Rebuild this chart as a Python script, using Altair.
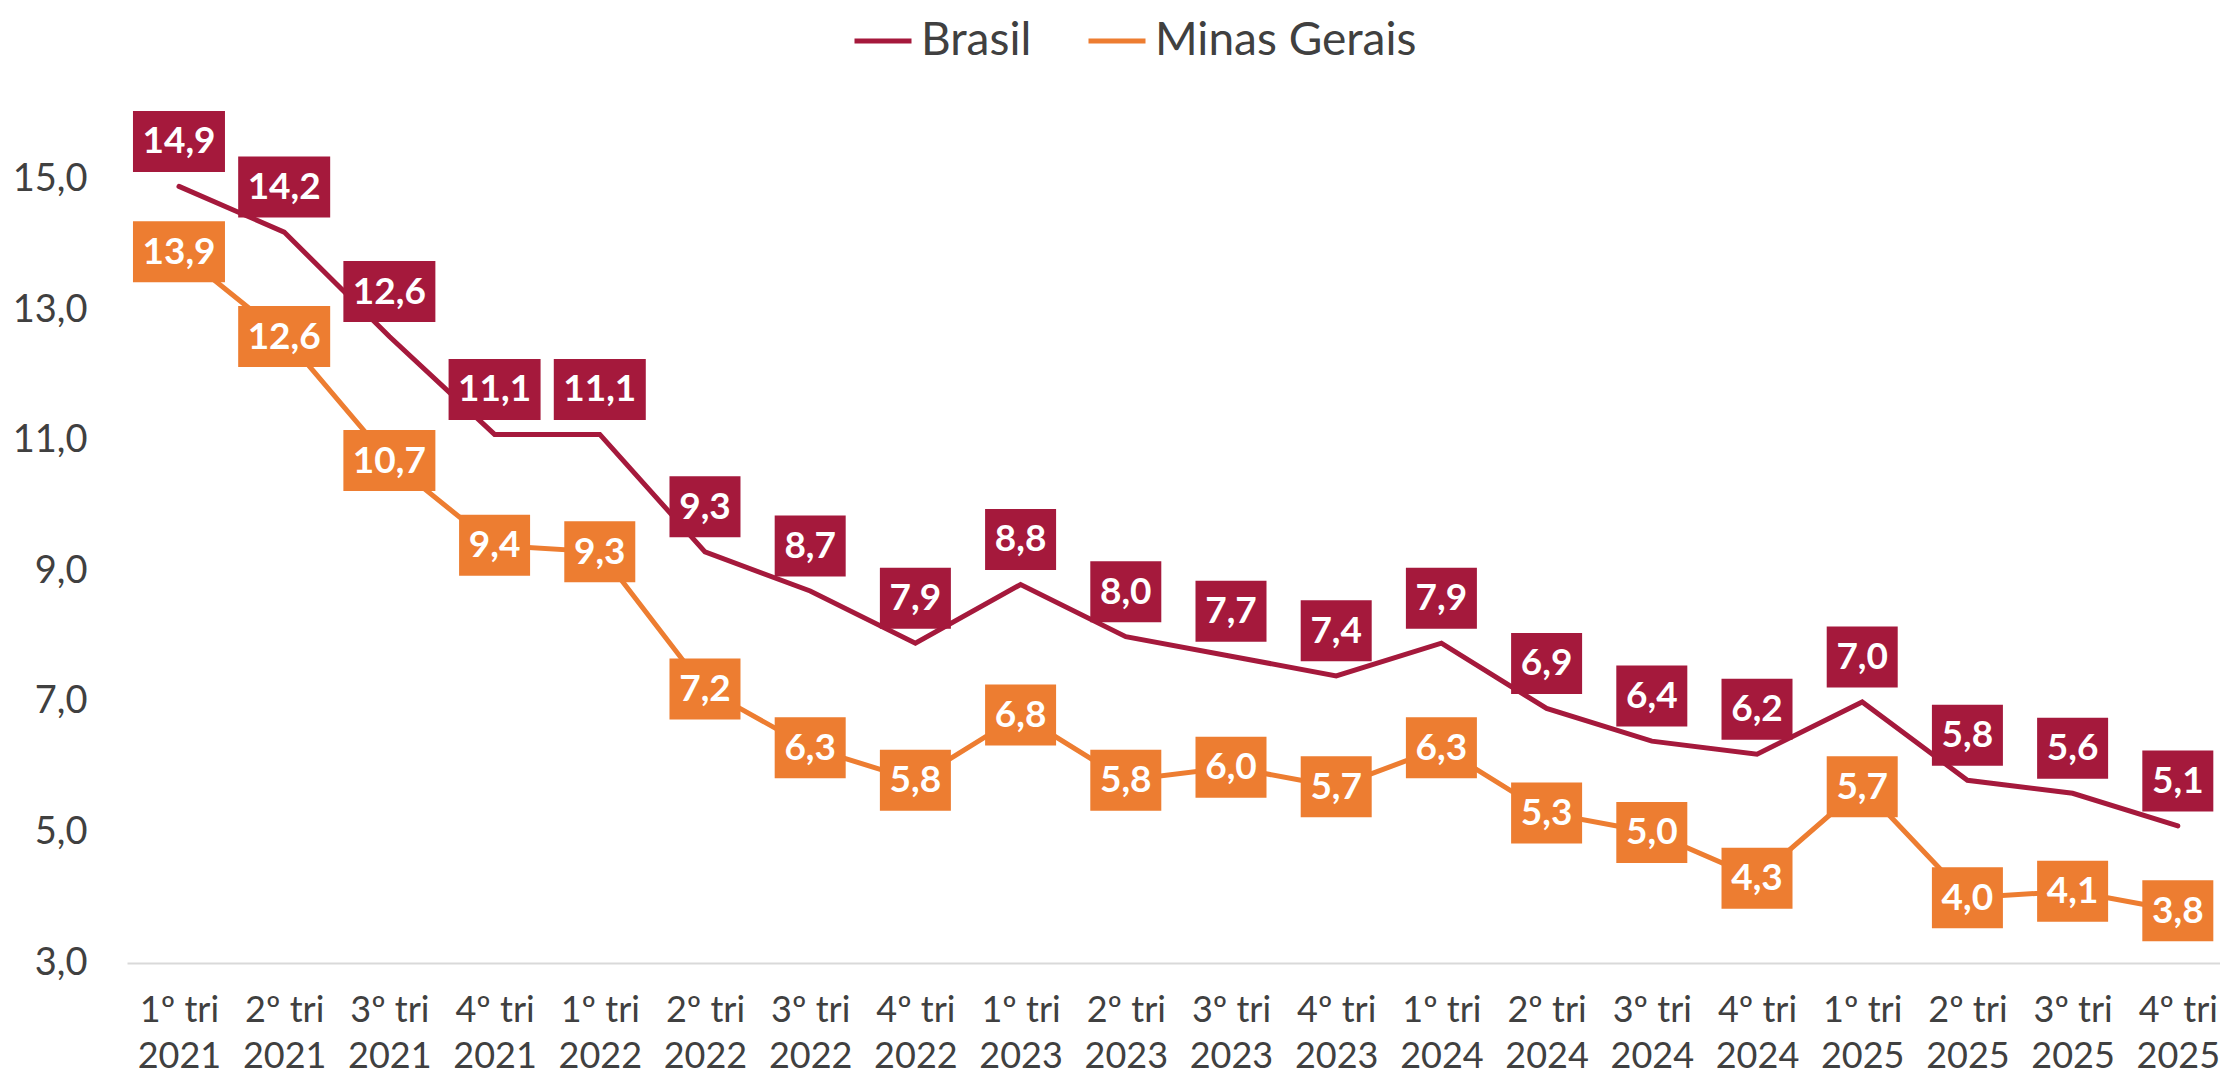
import altair as alt
import pandas as pd

categories = [
    "1º tri|2021", "2º tri|2021", "3º tri|2021", "4º tri|2021",
    "1º tri|2022", "2º tri|2022", "3º tri|2022", "4º tri|2022",
    "1º tri|2023", "2º tri|2023", "3º tri|2023", "4º tri|2023",
    "1º tri|2024", "2º tri|2024", "3º tri|2024", "4º tri|2024",
    "1º tri|2025", "2º tri|2025", "3º tri|2025", "4º tri|2025",
]
brasil = [14.9, 14.2, 12.6, 11.1, 11.1, 9.3, 8.7, 7.9, 8.8, 8.0,
          7.7, 7.4, 7.9, 6.9, 6.4, 6.2, 7.0, 5.8, 5.6, 5.1]
minas = [13.9, 12.6, 10.7, 9.4, 9.3, 7.2, 6.3, 5.8, 6.8, 5.8,
         6.0, 5.7, 6.3, 5.3, 5.0, 4.3, 5.7, 4.0, 4.1, 3.8]
series_names = ["Brasil", "Minas Gerais"]
colors = ["#A5193C", "#ED7D31"]
y_ticks = [3, 5, 7, 9, 11, 13, 15]

rows = []
for name, vals in zip(series_names, [brasil, minas]):
    for c, v in zip(categories, vals):
        lab = f"{v:.1f}".replace(".", ",")
        rows.append({"cat": c, "series": name, "value": v, "label": lab, "len": len(lab)})
df = pd.DataFrame(rows)

FONT = "Lato"
x_enc = alt.X("cat:N", sort=categories, title=None,
              scale=alt.Scale(type="point", padding=0.4475, align=0.552),
              axis=alt.Axis(labelExpr="split(datum.value, '|')", labelAngle=0,
                            labelFontSize=36, labelFont=FONT, labelColor="#404040",
                            labelLineHeight=46, labelPadding=30, ticks=False,
                            domainColor="#D9D9D9", domainWidth=2, grid=False))
y_enc = alt.Y("value:Q", title=None,
              scale=alt.Scale(domain=[3, 16.5], nice=False, zero=False),
              axis=alt.Axis(values=y_ticks, grid=False, domain=False, ticks=False,
                            labelExpr="replace(format(datum.value, '.1f'), '.', ',')",
                            labelFontSize=38, labelFont=FONT, labelColor="#404040",
                            labelPadding=40))

base = alt.Chart(df)

lines = base.mark_line(strokeWidth=5, strokeCap="round", strokeJoin="miter").encode(
    x=x_enc, y=y_enc,
    color=alt.Color("series:N", scale=alt.Scale(domain=series_names, range=colors),
                    legend=alt.Legend(title=None, orient="none", direction="horizontal",
                                      legendX=725, legendY=-72,
                                      labelFontSize=46, labelFont=FONT, labelColor="#404040",
                                      labelLimit=0,
                                      symbolType="stroke", symbolSize=3249,
                                      symbolStrokeWidth=5, columnPadding=46,
                                      labelOffset=7, padding=0)),
)

W3, W4, H = 71, 92, 61
path3 = f"M-1,-{H / W3:.4f}L1,-{H / W3:.4f}L1,{H / W3:.4f}L-1,{H / W3:.4f}Z"
path4 = f"M-1,-{H / W4:.4f}L1,-{H / W4:.4f}L1,{H / W4:.4f}L-1,{H / W4:.4f}Z"

layers = [lines]
offsets = [-45, 0]
for name, col, off in zip(series_names, colors, offsets):
    sub = base.transform_filter(alt.datum.series == name)
    box = sub.mark_point(filled=True, opacity=1, strokeWidth=0, yOffset=off, color=col).encode(
        x=x_enc, y=y_enc,
        shape=alt.Shape("len:O", scale=alt.Scale(domain=[3, 4], range=[path3, path4]), legend=None),
        size=alt.Size("len:O", scale=alt.Scale(domain=[3, 4], range=[W3 * W3, W4 * W4]), legend=None),
    )
    txt = sub.mark_text(font=FONT, fontWeight="bold", fontSize=37, color="white",
                        baseline="middle", align="center", yOffset=off + 1).encode(
        x=x_enc, y=y_enc, text="label:N")
    layers += [box, txt]

chart = alt.layer(*layers).properties(
    width=2093, height=881,
    autosize=alt.AutoSizeParams(type="none"),
    padding={"left": 119, "top": 74, "right": 0, "bottom": 115},
).configure_view(stroke=None)

chart.save("out.html", embed_options={"renderer": "svg", "actions": False})
